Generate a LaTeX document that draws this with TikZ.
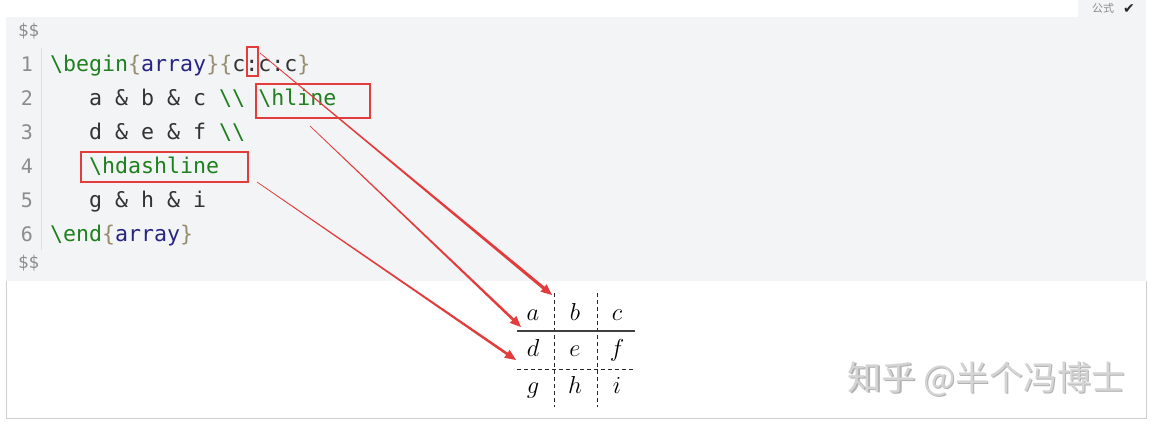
\RequirePackage{fix-cm}
\documentclass[tikz,border=0pt]{standalone}
\usepackage{fontspec}
\usetikzlibrary{calc}
\newfontfamily\codefont{DejaVu Sans Mono}
\newfontfamily\cjk{Noto Sans CJK SC}
\newfontfamily\symfont{DejaVu Sans}
\definecolor{codebg}{RGB}{243,244,246}
\definecolor{cgreen}{RGB}{30,128,30}
\definecolor{cbrace}{RGB}{150,140,110}
\definecolor{cblue}{RGB}{40,36,130}
\definecolor{cplain}{RGB}{51,51,51}
\definecolor{cnum}{RGB}{140,140,140}
\definecolor{cred}{RGB}{226,60,60}
\definecolor{cframe}{RGB}{205,207,210}
\newcommand\kwg[1]{\textcolor{cgreen}{#1}}
\newcommand\kwb[1]{\textcolor{cblue}{#1}}
\newcommand\kwr[1]{\textcolor{cbrace}{#1}}
\newcommand\bsl{\textbackslash}
\tikzset{
  code/.style={anchor=base west, inner sep=0pt, text=cplain, font=\codefont\fontsize{21.6}{24}\selectfont},
  lnum/.style={anchor=base, inner sep=0pt, text=cnum, font=\codefont\fontsize{20}{24}\selectfont},
  dollar/.style={anchor=base west, inner sep=0pt, text=cnum, font=\codefont\fontsize{17.5}{20}\selectfont},
  mathcell/.style={anchor=base, inner sep=0pt, font=\fontsize{24.5}{28}\selectfont},
  redbox/.style={draw=cred, line width=2.4pt},
  rule/.style={draw=black!75, line width=1.1pt},
  dashrule/.style={draw=black!85, line width=0.9pt, dash pattern=on 4pt off 3pt},
  taper/.style={fill=cred, to path={
    ($(\tikztostart)!0.35pt!90:(\tikztotarget)$)
    -- ($($(\tikztotarget)!11pt!(\tikztostart)$)!#1!-90:(\tikztostart)$)
    -- ($($(\tikztotarget)!11pt!(\tikztostart)$)!4.8pt!-90:(\tikztostart)$)
    -- (\tikztotarget)
    -- ($($(\tikztotarget)!11pt!(\tikztostart)$)!4.8pt!90:(\tikztostart)$)
    -- ($($(\tikztotarget)!11pt!(\tikztostart)$)!#1!90:(\tikztostart)$)
    -- ($(\tikztostart)!0.35pt!-90:(\tikztotarget)$) -- cycle}},
  taper/.default=1.3pt
}
\begin{document}
\begin{tikzpicture}[x=1pt,y=-1pt]
\useasboundingbox (0,0) rectangle (1155,426);
\fill[white] (0,0) rectangle (1155,426);
% card
\fill[codebg] (6,17) rectangle (1146,281);
\fill[codebg] (1078,0) rectangle (1146,17);
\draw[cframe, line width=1pt] (6,281) -- (6,418) -- (1146,418) -- (1146,281);
\draw[black!13, line width=1pt] (41,48) -- (41,250);
% tab
\node[anchor=base, inner sep=0pt, text=black!45, font=\cjk\fontsize{11}{12}\selectfont] (tab) at (1103,12) {公式};
\node[anchor=base, inner sep=0pt, text=black!85, font=\symfont\fontsize{14}{14}\selectfont] (tick) at (1129,13) {✔};
% code
\node[dollar] (d1) at (18,36) {\$\$};
\node[dollar] (d2) at (18,268) {\$\$};
\foreach \i in {1,...,6} {
  \node[lnum] (n\i) at (27,{71+34*(\i-1)}) {\i};
}
\node[code] (l1) at (50,71) {\kwg{\bsl begin}\kwr{\{}\kwb{array}\kwr{\}}\kwr{\{}c:c:c\kwr{\}}};
\node[code] (l2) at (89,105) {a \& b \& c \kwg{\bsl\bsl} \kwg{\bsl hline}};
\node[code] (l3) at (89,139) {d \& e \& f \kwg{\bsl\bsl}};
\node[code] (l4) at (89,173) {\kwg{\bsl hdashline}};
\node[code] (l5) at (89,207) {g \& h \& i};
\node[code] (l6) at (50,241) {\kwg{\bsl end}\kwr{\{}\kwb{array}\kwr{\}}};
% red boxes
\draw[redbox] (247,47) rectangle (258,76);
\draw[redbox] (256,84) rectangle (370,118);
\draw[redbox] (81,152) rectangle (248,182);
% table
\foreach \r/\y/\cs in {1/320/{a,b,c},2/356/{d,e,f},3/393/{g,h,i}} {
  \foreach \c [count=\k] in \cs {
    \node[mathcell] (t\r\k) at ({533+42*(\k-1)},\y) {$\c$};
  }
}
\coordinate (v1t) at (554,293); \coordinate (v1b) at (554,407);
\coordinate (v2t) at (597,293); \coordinate (v2b) at (597,407);
\coordinate (h1l) at (517,331); \coordinate (h1r) at (635,331);
\coordinate (h2l) at (517,369); \coordinate (h2r) at (635,369);
\draw[dashrule] (v1t) -- (v1b);
\draw[dashrule] (v2t) -- (v2b);
\draw[rule] (h1l) -- (h1r);
\draw[dashrule] (h2l) -- (h2r);
% arrows
\coordinate (s1) at (260,53);  \coordinate (e1) at (552,295);
\coordinate (s2) at (310,126); \coordinate (e2) at (521,327);
\coordinate (s3) at (257,182); \coordinate (e3) at (516,360);
\fill[taper=1.6pt] (s1) to (e1);
\fill[taper] (s2) to (e2);
\fill[taper] (s3) to (e3);
% watermark
\node[anchor=base west, inner sep=0pt, text=black!30, font=\cjk\fontsize{34}{36}\selectfont] (wms) at (848.8,391.8) {知乎 @半个冯博士};
\node[anchor=base west, inner sep=0pt, text=black!17, font=\cjk\fontsize{34}{36}\selectfont] (wm) at (847.6,390.6) {知乎 @半个冯博士};
\end{tikzpicture}
\end{document}
